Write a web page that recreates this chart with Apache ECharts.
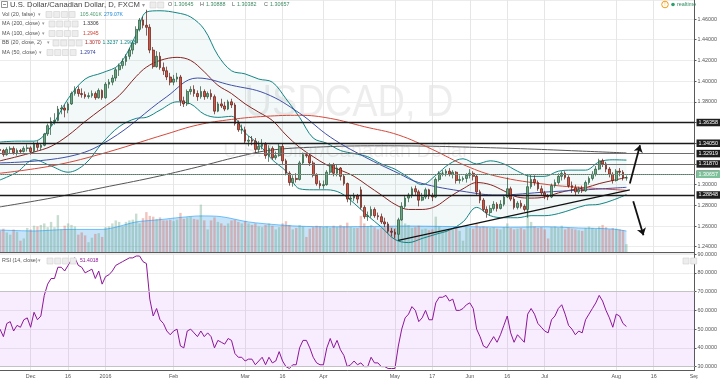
<!DOCTYPE html>
<html><head><meta charset="utf-8">
<script src="https://cdn.jsdelivr.net/npm/echarts@6/dist/echarts.min.js"></script>
<style>html,body{margin:0;padding:0;background:#fff}#c{width:720px;height:385px}</style>
</head><body><div id="c"></div>
<script>
// ---------- calendar (trading days) ----------
const firstDay = '2015-11-18';
const lastAxisDay = '2016-09-01';
const holidays = ['2015-12-25', '2016-01-01'];
// ---------- x tick labels ----------
const tickDates = ['2015-12-01','2015-12-16','2016-01-04','2016-02-01','2016-03-01','2016-03-16','2016-04-01','2016-05-02','2016-05-17','2016-06-01','2016-06-16','2016-07-01','2016-08-01','2016-08-16','2016-09-01'];
const tickTexts = ['Dec','16','2016','Feb','Mar','16','Apr','May','17','Jun','16','Jul','Aug','16','Sep'];
// ---------- daily candles [open, close, low, high] ----------
const candles = [
[1.3340,1.3330,1.3300,1.3370],[1.3330,1.3290,1.3270,1.3345],[1.3290,1.3340,1.3280,1.3360],[1.3340,1.3350,1.3300,1.3370],[1.3350,1.3310,1.3290,1.3370],
[1.3310,1.3330,1.3280,1.3350],[1.3330,1.3320,1.3300,1.3345],[1.3320,1.3350,1.3310,1.3370],[1.3350,1.3355,1.3320,1.3390],[1.3355,1.3320,1.3290,1.3370],
[1.3320,1.3390,1.3310,1.3410],[1.3390,1.3360,1.3330,1.3420],[1.3360,1.3380,1.3330,1.3400],[1.3380,1.3490,1.3370,1.3500],[1.3490,1.3570,1.3470,1.3590],
[1.3570,1.3610,1.3480,1.3650],[1.3610,1.3620,1.3580,1.3690],[1.3620,1.3730,1.3610,1.3760],[1.3730,1.3740,1.3680,1.3770],[1.3740,1.3720,1.3650,1.3770],
[1.3720,1.3780,1.3690,1.3800],[1.3780,1.3880,1.3770,1.3900],[1.3880,1.3920,1.3860,1.3950],[1.3920,1.3880,1.3850,1.3950],[1.3880,1.3870,1.3840,1.3930],
[1.3870,1.3850,1.3830,1.3900],[1.3850,1.3860,1.3830,1.3890],[1.3860,1.3880,1.3840,1.3910],[1.3880,1.3840,1.3820,1.3900],[1.3840,1.3910,1.3830,1.3930],
[1.3910,1.3840,1.3820,1.3920],[1.3840,1.3970,1.3830,1.3990],[1.3970,1.3990,1.3930,1.4020],[1.3990,1.4030,1.3960,1.4060],[1.4030,1.4110,1.4000,1.4130],
[1.4110,1.4150,1.4050,1.4170],[1.4150,1.4190,1.4120,1.4220],[1.4190,1.4240,1.4150,1.4260],[1.4240,1.4300,1.4210,1.4320],[1.4300,1.4370,1.4260,1.4390],
[1.4370,1.4500,1.4350,1.4530],[1.4500,1.4590,1.4480,1.4610],[1.4590,1.4540,1.4510,1.4620],[1.4540,1.4520,1.4440,1.4690],[1.4520,1.4300,1.4270,1.4550],
[1.4300,1.4140,1.4120,1.4330],[1.4140,1.4240,1.4130,1.4290],[1.4240,1.4130,1.4110,1.4280],[1.4130,1.4100,1.4060,1.4180],[1.4100,1.4040,1.4010,1.4140],
[1.4040,1.3990,1.3960,1.4080],[1.3990,1.4020,1.3960,1.4060],[1.4020,1.4040,1.3990,1.4080],[1.4040,1.3810,1.3760,1.4060],[1.3810,1.3780,1.3750,1.3850],
[1.3780,1.3900,1.3760,1.3920],[1.3900,1.3920,1.3870,1.3950],[1.3920,1.3880,1.3850,1.3960],[1.3880,1.3850,1.3810,1.3910],[1.3850,1.3900,1.3830,1.3950],
[1.3900,1.3850,1.3820,1.3920],[1.3850,1.3880,1.3830,1.3900],[1.3880,1.3850,1.3820,1.3920],[1.3850,1.3710,1.3680,1.3870],[1.3710,1.3780,1.3700,1.3800],
[1.3780,1.3760,1.3740,1.3830],[1.3760,1.3730,1.3710,1.3800],[1.3730,1.3800,1.3720,1.3820],[1.3800,1.3770,1.3740,1.3830],[1.3770,1.3590,1.3570,1.3790],
[1.3590,1.3530,1.3510,1.3620],[1.3530,1.3530,1.3490,1.3580],[1.3530,1.3420,1.3400,1.3560],[1.3420,1.3430,1.3370,1.3470],[1.3430,1.3420,1.3380,1.3470],
[1.3420,1.3340,1.3300,1.3450],[1.3340,1.3370,1.3310,1.3420],[1.3370,1.3390,1.3340,1.3440],[1.3390,1.3280,1.3250,1.3410],[1.3280,1.3350,1.3220,1.3380],
[1.3350,1.3260,1.3240,1.3370],[1.3260,1.3280,1.3240,1.3320],[1.3280,1.3370,1.3270,1.3400],[1.3370,1.3230,1.3200,1.3400],[1.3230,1.3110,1.3090,1.3250],
[1.3110,1.3020,1.2990,1.3130],[1.3020,1.3060,1.2980,1.3090],[1.3060,1.3050,1.3020,1.3110],[1.3050,1.3210,1.3040,1.3230],[1.3210,1.3290,1.3190,1.3310],
[1.3290,1.3280,1.3260,1.3300],[1.3280,1.3210,1.3180,1.3300],[1.3210,1.3090,1.3070,1.3230],[1.3090,1.3010,1.2990,1.3110],[1.3010,1.2990,1.2960,1.3040],
[1.2990,1.3000,1.2960,1.3040],[1.3000,1.3120,1.2990,1.3140],[1.3120,1.3190,1.3100,1.3210],[1.3190,1.3110,1.3080,1.3210],[1.3110,1.3160,1.3080,1.3190],
[1.3160,1.3080,1.3040,1.3170],[1.3080,1.3010,1.2990,1.3100],[1.3010,1.2860,1.2830,1.3020],[1.2860,1.2870,1.2800,1.2900],[1.2870,1.2890,1.2840,1.2920],
[1.2890,1.2860,1.2820,1.2910],[1.2950,1.2780,1.2760,1.2980],[1.2780,1.2690,1.2670,1.2800],[1.2690,1.2700,1.2650,1.2740],[1.2700,1.2760,1.2680,1.2790],
[1.2760,1.2700,1.2680,1.2780],[1.2700,1.2690,1.2660,1.2730],[1.2690,1.2640,1.2620,1.2720],[1.2640,1.2620,1.2590,1.2680],[1.2620,1.2550,1.2530,1.2640],
[1.2550,1.2540,1.2500,1.2580],[1.2540,1.2520,1.2480,1.2570],[1.2520,1.2660,1.2460,1.2680],[1.2660,1.2790,1.2650,1.2830],[1.2790,1.2870,1.2770,1.2900],
[1.2870,1.2900,1.2830,1.2920],[1.2900,1.2960,1.2870,1.2980],[1.2960,1.2930,1.2900,1.2990],[1.2930,1.2850,1.2790,1.2950],[1.2850,1.2880,1.2840,1.2920],
[1.2880,1.2950,1.2860,1.2970],[1.2950,1.2890,1.2860,1.2960],[1.2890,1.2880,1.2840,1.2920],[1.2880,1.3050,1.2870,1.3070],[1.3050,1.3110,1.3030,1.3130],
[1.3110,1.3110,1.3080,1.3140],[1.3110,1.3130,1.3080,1.3150],[1.3130,1.3100,1.3080,1.3160],[1.3100,1.3120,1.3060,1.3140],[1.3120,1.3040,1.3010,1.3130],
[1.3040,1.3050,1.3010,1.3090],[1.3050,1.3060,1.3030,1.3080],[1.3060,1.3090,1.3020,1.3110],[1.3090,1.3110,1.3060,1.3150],[1.3110,1.3080,1.3040,1.3130],
[1.3080,1.2930,1.2900,1.3100],[1.2930,1.2850,1.2820,1.2950],[1.2850,1.2760,1.2740,1.2870],[1.2760,1.2730,1.2680,1.2790],[1.2730,1.2770,1.2700,1.2800],
[1.2770,1.2810,1.2750,1.2840],[1.2810,1.2770,1.2740,1.2830],[1.2770,1.2810,1.2760,1.2850],[1.2810,1.2880,1.2790,1.2900],[1.2880,1.2960,1.2870,1.3070],
[1.2960,1.2860,1.2840,1.2980],[1.2860,1.2780,1.2760,1.2880],[1.2780,1.2820,1.2760,1.2840],[1.2820,1.2790,1.2770,1.2850],[1.2790,1.2760,1.2740,1.2810],
[1.2760,1.2980,1.2680,1.3090],[1.2980,1.3050,1.2960,1.3100],[1.3050,1.3020,1.2990,1.3090],[1.3020,1.2960,1.2940,1.3040],[1.2960,1.2920,1.2900,1.2990],
[1.2920,1.2890,1.2860,1.2940],[1.2890,1.2880,1.2850,1.2910],[1.2880,1.2990,1.2870,1.3010],[1.2990,1.3020,1.2970,1.3050],[1.3020,1.3080,1.3000,1.3110],
[1.3080,1.3110,1.3040,1.3130],[1.3110,1.3070,1.3050,1.3130],[1.3070,1.2990,1.2970,1.3090],[1.2990,1.2970,1.2920,1.3030],[1.2970,1.2930,1.2900,1.3000],
[1.2930,1.2950,1.2910,1.2980],[1.2950,1.2940,1.2920,1.2990],[1.2940,1.3020,1.2930,1.3040],[1.3020,1.3060,1.3000,1.3080],[1.3060,1.3100,1.3040,1.3130],
[1.3100,1.3150,1.3080,1.3180],[1.3150,1.3230,1.3140,1.3250],[1.3230,1.3200,1.3170,1.3250],[1.3200,1.3150,1.3120,1.3220],[1.3150,1.3100,1.3070,1.3170],
[1.3100,1.3040,1.3010,1.3120],[1.3040,1.3130,1.3030,1.3150],[1.3130,1.3120,1.3080,1.3160],[1.3120,1.3065,1.3040,1.3140],[1.30645,1.30657,1.30382,1.30888]
];
// ---------- daily volume (K) ----------
const volume = [
280,310,260,230,300,270,150,180,320,300,350,340,360,380,330,400,330,490,300,350,
380,360,340,230,260,220,130,190,240,250,200,330,340,380,420,400,340,400,420,430,
510,380,450,530,480,470,440,460,420,420,430,410,430,520,440,460,470,440,430,630,
420,300,420,460,400,380,350,380,420,430,400,380,410,380,360,380,340,330,360,380,
350,300,330,380,410,360,300,320,360,340,200,310,330,350,340,330,340,320,350,330,
360,340,390,330,320,320,480,380,340,360,330,300,320,330,350,340,320,400,430,380,
360,320,330,350,300,310,290,300,470,340,300,290,300,310,330,280,150,330,320,310,
380,330,340,330,320,330,310,300,330,380,320,300,310,320,300,560,400,340,320,330,
300,180,330,340,320,350,300,320,310,300,290,280,320,340,320,310,340,360,330,300,
320,310,300,290,105.401
];
// ---------- volume MA(20) samples [bar index, K] ----------
const volMA = [[0,292],[10,280],[20,300],[30,300],[34,330],[40,400],[47,430],[53,460],[59,480],[65,470],[73,400],[82,360],[90,340],[100,335],[110,340],[120,345],[130,340],[140,335],[150,330],[160,335],[170,320],[180,305],[184,279.07]];
// ---------- moving averages samples [bar index, price] ----------
const ma200 = [[0,1.2785],[15,1.2870],[30,1.2970],[45,1.3070],[58,1.3170],[70,1.3270],[80,1.3335],[95,1.3365],[110,1.3375],[125,1.3372],[140,1.3360],[155,1.3345],[170,1.3325],[184,1.3306]];
const ma100 = [[0,1.3110],[15,1.3180],[29,1.3290],[49,1.3490],[58,1.3576],[68,1.3630],[78,1.3660],[88,1.3670],[97,1.3640],[107,1.3560],[117,1.3480],[127,1.3340],[137,1.3180],[146,1.3080],[161,1.3000],[172,1.2970],[184,1.2945]];
const ma50 = [[0,1.3210],[20,1.3270],[32,1.3430],[49,1.3850],[58,1.4030],[68,1.3960],[78,1.3880],[88,1.3690],[97,1.3460],[107,1.3270],[117,1.3110],[123,1.3020],[137,1.2930],[146,1.2900],[161,1.2930],[172,1.2950],[184,1.2974]];
// ---------- Bollinger Bands (20, 2) samples: bar index, lower, basis, upper ----------
const bbIdx   = [0,5,10,15,20,25,30,35,40,43,47,52,56,60,64,68,72,76,80,84,88,92,96,100,104,108,112,116,120,124,128,132,136,140,144,148,152,156,160,164,168,172,176,180,184];
const bbLower = [1.3045,1.3120,1.3240,1.3180,1.3120,1.3200,1.3400,1.3560,1.3640,1.3650,1.3720,1.3800,1.3780,1.3680,1.3650,1.3660,1.3500,1.3390,1.3240,1.3130,1.2960,1.2950,1.2950,1.2920,1.2820,1.2700,1.2590,1.2470,1.2440,1.2480,1.2520,1.2560,1.2640,1.2780,1.2700,1.2680,1.2680,1.2700,1.2700,1.2720,1.2760,1.2800,1.2810,1.2850,1.2903];
const bbBasis = [1.3230,1.3270,1.3315,1.3370,1.3475,1.3610,1.3735,1.3860,1.4045,1.4135,1.4200,1.4230,1.4200,1.4090,1.3960,1.3880,1.3780,1.3700,1.3620,1.3480,1.3360,1.3270,1.3190,1.3140,1.3080,1.2990,1.2900,1.2810,1.2760,1.2760,1.2790,1.2880,1.2960,1.3020,1.3000,1.2940,1.2880,1.2870,1.2880,1.2920,1.2950,1.2970,1.3010,1.3040,1.3070];
const bbUpper = [1.3412,1.3420,1.3420,1.3560,1.3830,1.4020,1.4080,1.4160,1.4450,1.4668,1.4680,1.4660,1.4620,1.4500,1.4250,1.4100,1.4070,1.4020,1.3990,1.3830,1.3650,1.3450,1.3400,1.3330,1.3300,1.3270,1.3200,1.3150,1.3070,1.3000,1.3090,1.3200,1.3250,1.3200,1.3230,1.3200,1.3130,1.3080,1.3080,1.3130,1.3140,1.3140,1.3220,1.3240,1.3237];
// ---------- RSI (14) ----------
const rsi = [
50,46,53,54,49,52,51,55,56,51,59,55,57,68,74,77,77,83,83,81,
84,87,88,84,83,80,81,82,77,81,74,78,79,81,84,85,86,87,88,88,
89,89,86,85,66,57,61,55,53,49,47,49,50,41,40,49,50,48,46,49,
46,48,46,40,44,43,42,45,44,37,35,35,33,34,34,31,33,35,31,35,
32,33,38,33,30,29,31,31,40,44,44,40,35,32,31,31,40,45,40,44,
39,36,30,31,33,31,32,30,30,35,32,32,30,30,29,29,29,41,50,56,
58,62,60,54,56,60,55,55,64,67,67,68,65,66,60,60,61,63,64,61,
50,46,41,40,43,46,43,47,52,57,48,43,47,45,43,58,61,58,53,51,
49,48,55,57,61,63,58,52,50,47,49,48,55,58,61,64,68,65,60,56,
51,58,57,53,51.4018
];
// ---------- drawn levels / annotations ----------
const levelPrices = [1.36358, 1.34050, 1.32919, 1.31870, 1.31196, 1.28848];
const levelStrong = [true, true, false, false, false, true];
const lastPrice = 1.30657;
const trendFrom = [117, 1.2462], trendTo = [185, 1.2950];
const arrowUp = [[185, 1.3010], [188, 1.3380]];
const arrowDown = [[186, 1.2840], [189, 1.2510]];

// ---------- build categories ----------
const categories = [];
(function(){
  const d = new Date(firstDay + 'T00:00:00Z'), end = new Date(lastAxisDay + 'T00:00:00Z');
  while (d <= end) {
    const wd = d.getUTCDay(), s = d.toISOString().slice(0,10);
    if (wd !== 0 && wd !== 6 && holidays.indexOf(s) < 0) categories.push(s);
    d.setUTCDate(d.getUTCDate() + 1);
  }
})();
const tickSet = new Set(tickDates);
const tickInterval = function(i, v){ return tickSet.has(v); };
const C = i => categories[i];
const pairs = arr => arr.map(p => [C(p[0]), p[1]]);

const FONT = '"Liberation Sans", Arial, sans-serif';
const SMALL = 5.4, VAL = 5.1;
const volData = volume.map((v, i) => ({value: v, itemStyle: {color: candles[i][1] >= candles[i][0] ? 'rgba(107,165,131,0.38)' : 'rgba(215,84,66,0.35)'}}));

const lvlLabel = (txt, bg) => ({show: true, position: 'end', distance: 2, formatter: txt, backgroundColor: bg, color: '#fff', fontSize: SMALL, fontFamily: FONT, padding: [1.5, 2, 1, 2]});
const levelLines = levelPrices.map((p, i) => ({
  yAxis: p,
  lineStyle: {color: levelStrong[i] ? '#1a1a1a' : '#6d6d6d', width: levelStrong[i] ? 1.3 : 1, type: 'solid'},
  label: lvlLabel(p.toFixed(5), '#1e1e1e')
}));
levelLines.push({yAxis: lastPrice, lineStyle: {color: '#6ba583', width: 1, type: 'dotted'}, label: lvlLabel(lastPrice.toFixed(5), '#7dc19a')});

// ---------- overlay graphics (legend texts, icons, watermark) ----------
const G = [];
function txt(x, y, t, c, fs){ G.push({type:'text', x:x, y:y, z:100, silent:true, style:{text:t, fill:c, font: fs + 'px ' + FONT, verticalAlign:'middle'}}); }
function boxes(x, y, n){ for (let i = 0; i < n; i++) G.push({type:'rect', z:100, silent:true, shape:{x:x + i*7.7, y:y - 3, width:6, height:6}, style:{fill:'#ededed', stroke:'#d2d2d2', lineWidth:0.6}}); }
// watermark
G.push({type:'text', x:349, y:104, z:0, silent:true, scaleY:1.15, style:{text:'USDCAD, D', fill:'rgba(0,0,0,0.07)', font:'38px ' + FONT, align:'center', verticalAlign:'middle'}});
G.push({type:'text', x:346, y:151, z:0, silent:true, style:{text:'U.S. Dollar/Canadian Dollar', fill:'rgba(0,0,0,0.07)', font:'20px ' + FONT, align:'center', verticalAlign:'middle'}});
// header
G.push({type:'rect', z:100, shape:{x:1.5, y:1.5, width:6, height:6}, style:{fill:'#fff', stroke:'#777', lineWidth:0.8}});
G.push({type:'line', z:100, shape:{x1:3, y1:4.5, x2:6, y2:4.5}, style:{stroke:'#777', lineWidth:0.8}});
txt(10, 5, 'U.S. Dollar/Canadian Dollar, D, FXCM', '#444', 7.7);
txt(142, 5, '▾', '#999', 5.5);
boxes(150, 5, 2);
txt(168, 5, 'O', '#555', SMALL); txt(174, 5, '1.30645', '#3d8a62', SMALL);
txt(200, 5, 'H', '#555', SMALL); txt(206, 5, '1.30888', '#3d8a62', SMALL);
txt(232, 5, 'L', '#555', SMALL); txt(237, 5, '1.30382', '#3d8a62', SMALL);
txt(264, 5, 'C', '#555', SMALL); txt(270, 5, '1.30657', '#3d8a62', SMALL);
// indicator rows
txt(2, 14.5, 'Vol (20, false)', '#555', SMALL); txt(38, 14.5, '▾', '#999', 5); boxes(46, 14.5, 4);
txt(80, 14.5, '105.401K', '#4c9a6c', VAL); txt(104, 14.5, '279.07K', '#1e88d8', VAL);
txt(2, 24, 'MA (200, close)', '#555', SMALL); txt(42, 24, '▾', '#999', 5); boxes(49, 24, 4);
txt(83, 24, '1.3306', '#333', VAL);
txt(2, 33.5, 'MA (100, close)', '#555', SMALL); txt(42, 33.5, '▾', '#999', 5); boxes(49, 33.5, 4);
txt(83, 33.5, '1.2945', '#d23a2a', VAL);
txt(2, 43, 'BB (20, close, 2)', '#555', SMALL); txt(47, 43, '▾', '#999', 5); boxes(53, 43, 4);
txt(85, 43, '1.3070', '#b22222', VAL); txt(102.5, 43, '1.3237', '#138484', VAL); txt(120, 43, '1.2903', '#138484', VAL);
txt(2, 52.5, 'MA (50, close)', '#555', SMALL); txt(39, 52.5, '▾', '#999', 5); boxes(47, 52.5, 4);
txt(80, 52.5, '1.2974', '#2b3a9e', VAL);
// RSI legend
txt(2, 261, 'RSI (14, close)', '#555', SMALL); txt(38, 261, '▾', '#999', 5); boxes(47, 261, 4);
txt(80, 261, '51.4018', '#8e1599', VAL);
boxes(683, 261, 2);
// realtime badge
G.push({type:'circle', z:100, shape:{cx:665, cy:4.5, r:3.3}, style:{fill:'#fff', stroke:'#f39c12', lineWidth:1}});
txt(664.3, 4.7, '!', '#f39c12', 5);
G.push({type:'circle', z:100, shape:{cx:673, cy:4.5, r:1.8}, style:{fill:'#2e9e6e'}});
txt(677, 4.5, 'realtime', '#2e8a62', SMALL);
// cover past right edge of time axis
G.push({type:'rect', z:120, shape:{x:698, y:371, width:22, height:14}, style:{fill:'#fff'}});

const chart = echarts.init(document.getElementById('c'));
const commonX = {type:'category', data:categories, boundaryGap:false, axisTick:{show:false}};
chart.setOption({
  animation:false,
  backgroundColor:'#fff',
  textStyle:{fontFamily:FONT},
  grid:[{left:0, right:23, top:0, height:252}, {left:0, right:23, top:253, height:117}],
  xAxis:[
    Object.assign({}, commonX, {gridIndex:0, axisLine:{show:true, lineStyle:{color:'#5a5a5a', width:1}}, axisLabel:{show:false}, splitLine:{show:true, interval:tickInterval, lineStyle:{color:'#e6e6e6', width:1}}}),
    Object.assign({}, commonX, {gridIndex:1, axisLine:{show:true, lineStyle:{color:'#5a5a5a', width:1}}, axisLabel:{interval:tickInterval, formatter: v => tickTexts[tickDates.indexOf(v)], fontSize:SMALL, color:'#555', margin:4, fontFamily:FONT}, splitLine:{show:true, interval:tickInterval, lineStyle:{color:'#e6e6e6', width:1}}})
  ],
  yAxis:[
    {type:'value', gridIndex:0, position:'right', min:1.2349, max:1.4784, splitNumber:12,
     axisLine:{show:true, lineStyle:{color:'#5a5a5a'}}, axisTick:{show:true, length:2, lineStyle:{color:'#5a5a5a'}},
     axisLabel:{fontSize:SMALL, color:'#555', margin:3, fontFamily:FONT, showMinLabel:false, showMaxLabel:false,
       formatter: v => ([1.36, 1.34, 1.32].some(h => Math.abs(h - v) < 1e-6) ? '' : v.toFixed(5))},
     splitLine:{lineStyle:{color:'#ececec'}}},
    {type:'value', gridIndex:0, min:0, max:3350, show:false, splitLine:{show:false}},
    {type:'value', gridIndex:1, position:'right', min:28.2, max:90.6, splitNumber:6,
     axisLine:{show:true, lineStyle:{color:'#5a5a5a'}}, axisTick:{show:true, length:2, lineStyle:{color:'#5a5a5a'}},
     axisLabel:{fontSize:SMALL, color:'#555', margin:3, fontFamily:FONT, showMinLabel:false, showMaxLabel:false, formatter: v => v.toFixed(4)},
     splitLine:{lineStyle:{color:'#ececec'}}}
  ],
  series:[
    {name:'bbLower', type:'line', xAxisIndex:0, yAxisIndex:0, data:bbIdx.map((k, i) => [C(k), bbLower[i]]), stack:'bb', smooth:0.35, symbol:'none', lineStyle:{color:'#138484', width:1}, z:1},
    {name:'bbBand', type:'line', xAxisIndex:0, yAxisIndex:0, data:bbIdx.map((k, i) => [C(k), +(bbUpper[i] - bbLower[i]).toFixed(5)]), stack:'bb', smooth:0.35, symbol:'none', lineStyle:{color:'#138484', width:1}, areaStyle:{color:'rgba(25,135,135,0.07)'}, z:1},
    {name:'bbBasis', type:'line', xAxisIndex:0, yAxisIndex:0, data:bbIdx.map((k, i) => [C(k), bbBasis[i]]), smooth:0.35, symbol:'none', lineStyle:{color:'#872323', width:1}, z:2},
    {name:'vol', type:'bar', xAxisIndex:0, yAxisIndex:1, data:volData, barWidth:2.4, z:1},
    {name:'volMA', type:'line', xAxisIndex:0, yAxisIndex:1, data:pairs(volMA), smooth:0.3, symbol:'none', lineStyle:{color:'rgba(4,150,255,0.55)', width:1}, areaStyle:{color:'rgba(40,150,225,0.38)'}, z:1},
    {name:'ma200', type:'line', xAxisIndex:0, yAxisIndex:0, data:pairs(ma200), smooth:0.4, symbol:'none', lineStyle:{color:'#555', width:1}, z:2},
    {name:'ma100', type:'line', xAxisIndex:0, yAxisIndex:0, data:pairs(ma100), smooth:0.4, symbol:'none', lineStyle:{color:'#d6483a', width:1}, z:2},
    {name:'ma50', type:'line', xAxisIndex:0, yAxisIndex:0, data:pairs(ma50), smooth:0.4, symbol:'none', lineStyle:{color:'#3f4fa8', width:1}, z:2},
    {name:'price', type:'candlestick', xAxisIndex:0, yAxisIndex:0, data:candles, barWidth:2.2,
     itemStyle:{color:'#6ba583', color0:'#d75442', borderColor:'#225437', borderColor0:'#5b1a13', borderWidth:0.7}, z:3},
    {name:'levels', type:'line', xAxisIndex:0, yAxisIndex:0, data:[], z:4,
     markLine:{silent:true, symbol:'none', animation:false, data:levelLines}},
    {name:'drawings', type:'line', xAxisIndex:0, yAxisIndex:0, data:[], z:5,
     markLine:{silent:true, animation:false, data:[
       [{coord:[C(trendFrom[0]), trendFrom[1]], symbol:'none', lineStyle:{color:'#111', width:1.2, type:'solid'}, label:{show:false}}, {coord:[C(trendTo[0]), trendTo[1]], symbol:'none'}],
       [{coord:[C(arrowUp[0][0]), arrowUp[0][1]], symbol:'none', lineStyle:{color:'#111', width:1.8, type:'solid'}, label:{show:false}}, {coord:[C(arrowUp[1][0]), arrowUp[1][1]], symbol:'arrow', symbolSize:7}],
       [{coord:[C(arrowDown[0][0]), arrowDown[0][1]], symbol:'none', lineStyle:{color:'#111', width:1.8, type:'solid'}, label:{show:false}}, {coord:[C(arrowDown[1][0]), arrowDown[1][1]], symbol:'arrow', symbolSize:7}]
     ]}},
    {name:'rsi', type:'line', xAxisIndex:1, yAxisIndex:2, data:rsi, symbol:'none', lineStyle:{color:'#8e1599', width:1}, z:3,
     markArea:{silent:true, itemStyle:{color:'rgba(153,21,255,0.08)'}, data:[[{yAxis:70}, {yAxis:30}]]},
     markLine:{silent:true, symbol:'none', label:{show:false}, lineStyle:{color:'#c3c3c3', width:1, type:'solid'}, data:[{yAxis:70}, {yAxis:30}]}}
  ],
  graphic: G
});
</script>
</body></html>
